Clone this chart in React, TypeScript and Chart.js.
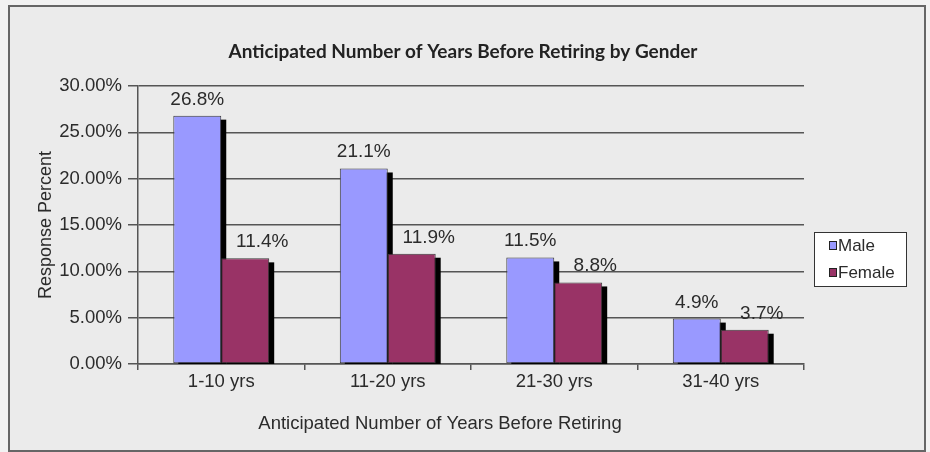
import React, { useEffect, useRef } from 'react';
import { Chart, registerables } from 'chart.js';

Chart.register(...registerables);

const categories = ['1-10 yrs', '11-20 yrs', '21-30 yrs', '31-40 yrs'];
const maleValues = [26.8, 21.1, 11.5, 4.9];
const femaleValues = [11.4, 11.9, 8.8, 3.7];
const seriesNames = ['Male', 'Female'];
const yTickValues = [0, 5, 10, 15, 20, 25, 30];
const chartTitle = 'Anticipated Number of Years Before Retiring by Gender';
const xAxisTitle = 'Anticipated Number of Years Before Retiring';
const yAxisTitle = 'Response Percent';

const MALE_COLOR = '#9999ff';
const FEMALE_COLOR = '#993366';
const TEXT = '#2b2b2b';
const GRID = '#555555';
const FONT = '"Liberation Sans", Arial, sans-serif';
const labelNudge = [0, 17];

const decorPlugin = {
  id: 'decor',
  beforeDraw(chart: any) {
    const { ctx, width, height } = chart;
    ctx.save();
    ctx.fillStyle = '#f2f2f2';
    ctx.fillRect(0, 0, width, height);
    ctx.fillStyle = '#ebebeb';
    ctx.fillRect(9, 6, 916, 445);
    ctx.strokeStyle = '#666666';
    ctx.lineWidth = 2;
    ctx.strokeRect(9, 6, 916, 445);
    ctx.restore();
  },
  beforeDatasetsDraw(chart: any) {
    const { ctx, chartArea } = chart;
    ctx.save();
    ctx.beginPath();
    ctx.rect(chartArea.left, chartArea.top, chartArea.right - chartArea.left, chartArea.bottom - chartArea.top);
    ctx.clip();
    ctx.fillStyle = '#000000';
    chart.data.datasets.forEach((_: any, di: number) => {
      const meta = chart.getDatasetMeta(di);
      meta.data.forEach((el: any) => {
        const { x, y, base, width } = el.getProps(['x', 'y', 'base', 'width'], true);
        ctx.fillRect(x - width / 2 + 5, y + 4, width, base - y);
      });
    });
    ctx.restore();
  },
  afterDraw(chart: any) {
    const { ctx } = chart;
    ctx.save();
    // data labels
    ctx.font = `19px ${FONT}`;
    ctx.fillStyle = TEXT;
    ctx.textAlign = 'center';
    ctx.textBaseline = 'alphabetic';
    chart.data.datasets.forEach((ds: any, di: number) => {
      const meta = chart.getDatasetMeta(di);
      meta.data.forEach((el: any, i: number) => {
        const { x, y } = el.getProps(['x', 'y'], true);
        ctx.fillText(ds.data[i].toFixed(1) + '%', x + labelNudge[di], y - 11);
      });
    });
    // chart title
    ctx.font = `bold 19px Lato, "Open Sans", sans-serif`;
    ctx.fillStyle = '#222222';
    ctx.textBaseline = 'middle';
    ctx.fillText(chartTitle, 463, 52);
    // x axis title
    ctx.font = `18.5px ${FONT}`;
    ctx.fillStyle = TEXT;
    ctx.fillText(xAxisTitle, 440, 424);
    // legend
    ctx.fillStyle = '#ffffff';
    ctx.fillRect(814, 232, 92, 54);
    ctx.strokeStyle = '#333333';
    ctx.lineWidth = 1;
    ctx.strokeRect(814.5, 232.5, 92, 54);
    ctx.textAlign = 'left';
    ctx.font = `17px ${FONT}`;
    chart.data.datasets.forEach((ds: any, di: number) => {
      const cy = 245 + di * 27;
      ctx.fillStyle = ds.backgroundColor;
      ctx.fillRect(829, cy - 4, 7, 8);
      ctx.strokeStyle = '#222222';
      ctx.strokeRect(829.5, cy - 3.5, 7, 8);
      ctx.fillStyle = TEXT;
      ctx.fillText(ds.label, 838, cy + 1);
    });
    ctx.restore();
  },
};

export default function App() {
  const ref = useRef<HTMLCanvasElement | null>(null);
  useEffect(() => {
    if (!ref.current) return;
    const chart = new Chart(ref.current, {
      type: 'bar',
      data: {
        labels: categories,
        datasets: [
          {
            label: seriesNames[0],
            data: maleValues,
            backgroundColor: MALE_COLOR,
            borderColor: '#3a3a3a',
            borderWidth: 1,
            borderSkipped: false,
            barPercentage: 1,
            categoryPercentage: 0.576,
          },
          {
            label: seriesNames[1],
            data: femaleValues,
            backgroundColor: FEMALE_COLOR,
            borderColor: '#3a3a3a',
            borderWidth: 1,
            borderSkipped: false,
            barPercentage: 1,
            categoryPercentage: 0.576,
          },
        ],
      },
      options: {
        responsive: false,
        animation: false,
        devicePixelRatio: 1,
        layout: { padding: { left: 35, right: 126, top: 86, bottom: 0 } },
        plugins: {
          legend: { display: false },
          title: { display: false },
          tooltip: { enabled: false },
        },
        scales: {
          x: {
            afterFit: (s: any) => {
              s.height = 88;
            },
            grid: {
              display: true,
              drawOnChartArea: false,
              drawTicks: true,
              tickLength: 6,
              offset: true,
              color: GRID,
              lineWidth: 1.5,
            },
            border: { display: true, color: GRID, width: 1.5 },
            ticks: {
              color: TEXT,
              font: { family: FONT, size: 18.5 },
              padding: 1,
              maxRotation: 0,
            },
          },
          y: {
            min: 0,
            max: 30,
            afterBuildTicks: (s: any) => {
              s.ticks = yTickValues.map((v) => ({ value: v }));
            },
            afterFit: (s: any) => {
              s.width = 103;
            },
            grid: {
              color: GRID,
              lineWidth: 1.5,
              drawTicks: true,
              tickLength: 10,
            },
            border: { display: true, color: GRID, width: 1.5 },
            ticks: {
              color: TEXT,
              font: { family: FONT, size: 18.5 },
              padding: 6,
              callback: (v: any) => Number(v).toFixed(2) + '%',
            },
            title: {
              display: true,
              text: yAxisTitle,
              color: TEXT,
              font: { family: FONT, size: 18 },
              padding: { top: 0, bottom: 0 },
            },
          },
        },
      },
      plugins: [decorPlugin],
    });
    return () => chart.destroy();
  }, []);
  return (
    <div style={{ position: 'absolute', left: 0, top: 0, width: 930, height: 452 }}>
      <canvas ref={ref} width={930} height={452} style={{ display: 'block', width: 930, height: 452 }} />
    </div>
  );
}
